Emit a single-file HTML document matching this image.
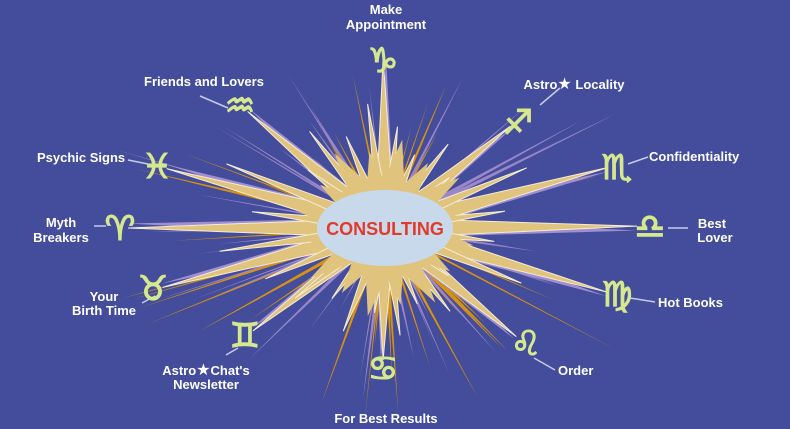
<!DOCTYPE html>
<html><head><meta charset="utf-8"><style>
html,body{margin:0;padding:0;background:#434d9c;}
svg{display:block}
text{font-family:"Liberation Sans","DejaVu Sans",sans-serif;font-weight:bold;fill:#fff;font-size:13px}
.g{font-family:"DejaVu Sans",sans-serif;fill:#d6e88e;stroke:#d6e88e;stroke-width:1.2;font-size:34px;font-weight:normal}
</style></head><body>
<svg id="s" width="790" height="429" viewBox="0 0 790 429" xmlns="http://www.w3.org/2000/svg">
<rect width="790" height="429" fill="#434d9c"/>
<g id="rays"></g>
<g id="spikes"></g>
<ellipse cx="385" cy="228" rx="68" ry="38" fill="#c9d9ec"/>
<text x="385" y="235" text-anchor="middle" style="fill:#e23a2a;font-size:18px">CONSULTING</text>
<g stroke="#c8cbe8" stroke-width="1.5">
<line x1="200" y1="96" x2="228" y2="108"/>
<line x1="128" y1="160" x2="148" y2="164"/>
<line x1="94" y1="226" x2="106" y2="226"/>
<line x1="142" y1="303" x2="155" y2="296"/>
<line x1="226" y1="355" x2="238" y2="348"/>
<line x1="540" y1="105" x2="560" y2="88"/>
<line x1="628" y1="164" x2="648" y2="157"/>
<line x1="668" y1="228" x2="688" y2="228"/>
<line x1="630" y1="298" x2="655" y2="302"/>
<line x1="534" y1="358" x2="555" y2="370"/>
</g>
<text class="g" x="383" y="72" text-anchor="middle">♑</text>
<text class="g" x="518" y="134" text-anchor="middle">♐</text>
<text class="g" x="617" y="179" text-anchor="middle">♏</text>
<text class="g" x="650" y="238" text-anchor="middle">♎</text>
<text class="g" x="617" y="306" text-anchor="middle">♍</text>
<text class="g" x="526" y="355" text-anchor="middle">♌</text>
<text class="g" x="383" y="380" text-anchor="middle">♋</text>
<text class="g" x="245" y="347" text-anchor="middle">♊</text>
<text class="g" x="153" y="300" text-anchor="middle">♉</text>
<text class="g" x="120" y="240" text-anchor="middle">♈</text>
<text class="g" x="157" y="178" text-anchor="middle">♓</text>
<text class="g" x="240" y="117" text-anchor="middle">♒</text>
<text x="386" y="14" text-anchor="middle">Make</text>
<text x="386" y="29" text-anchor="middle">Appointment</text>
<text x="204" y="86" text-anchor="middle">Friends and Lovers</text>
<text x="574" y="89" text-anchor="middle">Astro<tspan font-size="16">★</tspan> Locality</text>
<text x="37" y="162">Psychic Signs</text>
<text x="649" y="161">Confidentiality</text>
<text x="61" y="227" text-anchor="middle">Myth</text>
<text x="61" y="242" text-anchor="middle">Breakers</text>
<text x="712" y="228" text-anchor="middle">Best</text>
<text x="715" y="242" text-anchor="middle">Lover</text>
<text x="104" y="301" text-anchor="middle">Your</text>
<text x="104" y="315" text-anchor="middle">Birth Time</text>
<text x="658" y="307">Hot Books</text>
<text x="206" y="375" text-anchor="middle">Astro<tspan font-size="16">★</tspan>Chat's</text>
<text x="206" y="389" text-anchor="middle">Newsletter</text>
<text x="558" y="375">Order</text>
<text x="386" y="423" text-anchor="middle">For Best Results</text>
</svg>
<script>
var C=[385,228],NS="http://www.w3.org/2000/svg";
function poly(g,pts,fill,stroke,sw){var p=document.createElementNS(NS,"polygon");p.setAttribute("points",pts.map(function(a){return a[0].toFixed(1)+","+a[1].toFixed(1)}).join(" "));p.setAttribute("fill",fill);if(stroke){p.setAttribute("stroke",stroke);p.setAttribute("stroke-width",sw)}g.appendChild(p);}
function spike(g,ang,len,w,fill,stroke,sw){var a=ang*Math.PI/180,dx=Math.cos(a),dy=Math.sin(a),px=-dy,py=dx;var cx=C[0],cy=C[1];poly(g,[[cx+px*w,cy+py*w],[cx+dx*len,cy+dy*len],[cx-px*w,cy-py*w]],fill,stroke,sw);}
var rays=document.getElementById("rays"),sp=document.getElementById("spikes");
var seed=7;function rnd(){seed=(seed*9301+49297)%233280;return seed/233280;}
for(var i=0;i<80;i++){var an=rnd()*360,ln=130+rnd()*150;spike(rays,an,ln*(Math.abs(Math.sin(an*Math.PI/180))>0.6?0.7:1),1.2+rnd()*2,rnd()<0.5?"#d8920f":"#9a86c8");}
var T=[[383,48],[518,120],[617,165],[647,226],[617,295],[524,343],[383,370],[245,337],[153,290],[118,228],[157,166],[240,105]];
T.forEach(function(t){var dx=t[0]-C[0],dy=t[1]-C[1];var an=Math.atan2(dy,dx)*180/Math.PI,ln=Math.sqrt(dx*dx+dy*dy)-10;spike(sp,an+1,ln,10,"#9f8fd0");spike(sp,an,ln,10,"#e0c47e","#f4ecd8",1);});
for(var k=0;k<24;k++){var an2=k*15+7,l2=110+((k*37)%70);spike(sp,an2,l2*(Math.abs(Math.sin(an2*Math.PI/180))>0.6?0.7:1),7,"#e0c47e","#f4ecd8",1);}
for(var m=0;m<16;m++){spike(sp,m*22.5+11,m%2?78:90,22,"#e0c47e");}
</script>
</body></html>
